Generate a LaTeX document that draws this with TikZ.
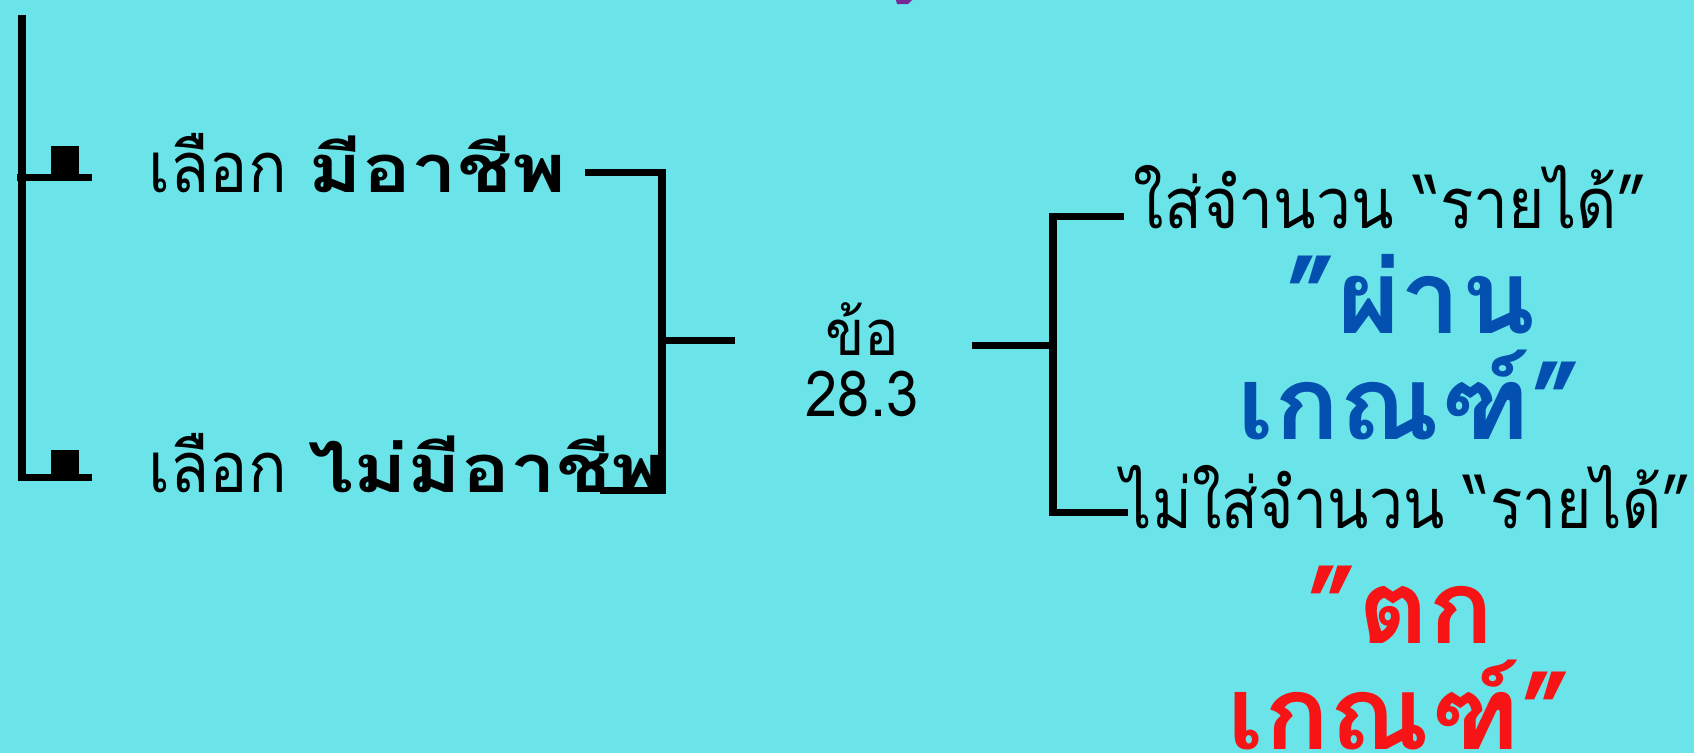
\documentclass[tikz,border=0pt]{standalone}
\usepackage{fontspec}
\newfontfamily\thaifont[Script=Thai,FakeStretch=0.91]{Loma}
\newfontfamily\thainarrow[Script=Thai,FakeStretch=0.885]{Loma}
\newfontfamily\thaitight[Script=Thai,FakeStretch=0.86]{Loma}
\newfontfamily\thaiwide[Script=Thai,FakeStretch=1.22]{Loma}
\newfontfamily\thaibig[Script=Thai,FakeStretch=1.06]{Loma}
\usetikzlibrary{positioning}
\definecolor{bgcyan}{RGB}{106,228,232}
\definecolor{passblue}{RGB}{4,80,176}
\definecolor{failred}{RGB}{246,20,22}
\definecolor{topviolet}{RGB}{120,40,150}

\begin{document}
\begin{tikzpicture}[x=0.01cm,y=-0.01cm,
  bracket/.style={line width=2pt,black},
  choice/.style={anchor=base west,inner sep=0pt,font=\thaifont\fontsize{20}{24}\selectfont},
  answer/.style={choice,font=\thainarrow\fontsize{20}{24}\selectfont},
  clause/.style={anchor=base,inner sep=0pt,font=\thaifont\fontsize{18}{20}\selectfont},
  verdict/.style={align=center,inner sep=0pt,font=\thaibig\bfseries\fontsize{29}{30}\selectfont}
  ]
  \fill[bgcyan] (0,0) rectangle (1694,753);
  \useasboundingbox (0,0) rectangle (1694,753);
  \fill[topviolet] (896,0) -- (912,0) -- (908,4) -- (897,4) -- cycle;

  % choices on the left
  \node[choice] (has) at (148,192) {เลือก {\thaiwide\bfseries\fontsize{19}{24}\selectfont มีอาชีพ}};
  \node[choice] (hasnot) at (148,492) {เลือก {\thaiwide\bfseries\fontsize{19}{24}\selectfont ไม่มีอาชีพ}};
  \node[clause] (item) at (862,355) {ข้อ};
  \node[clause] (num) at (862,416) {28.3};
  \node[answer] (fill) at (1133,228) {ใส่จำนวน “รายได้”};
  \node[answer,font=\thaitight\fontsize{20}{24}\selectfont] (nofill) at (1121,528) {ไม่ใส่จำนวน “รายได้”};
  \node[verdict,text=passblue] (pass) at (1410,347) {”ผ่าน\\เกณฑ์”};
  \node[verdict,text=failred] (fail) at (1400,658) {”ตก\\เกณฑ์”};

  % left bracket
  \coordinate (ltop) at (22,15);
  \coordinate (lbot) at (22,481);
  \draw[bracket] (ltop) -- (lbot);
  \draw[bracket] (17,177) -- (92,177);
  \draw[bracket] (19,477) -- (92,477);
  \fill (51,146) rectangle (79,176);
  \fill (51,450) rectangle (79,476);

  % middle bracket
  \coordinate (mtop) at (662,172);
  \coordinate (mbot) at (662,490);
  \coordinate (mmid) at (662,340);
  \draw[bracket] (585,172) -- (mtop) -- (mbot) -- (600,490);
  \draw[bracket] (mmid) -- (735,340);

  % right bracket
  \coordinate (rtop) at (1053,216);
  \coordinate (rbot) at (1053,512);
  \coordinate (rmid) at (1053,345);
  \draw[bracket] (1124,216) -- (rtop) -- (rbot) -- (1128,512);
  \draw[bracket] (972,345) -- (rmid);
\end{tikzpicture}
\end{document}
